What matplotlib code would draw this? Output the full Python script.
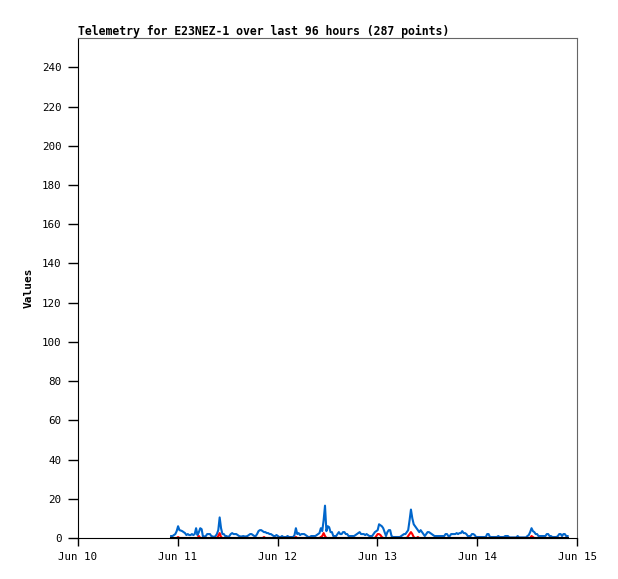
import matplotlib
matplotlib.use("Agg")
import matplotlib.pyplot as plt
import pandas as pd

TITLE = "Telemetry for E23NEZ-1 over last 96 hours (287 points)"
START = "2024-06-10 22:24"
STEP = "20min"

# blue channel, one value per 20 min sample
blue_vals = [
    1, 1, 1.5, 2, 3.5, 6, 4, 3.8, 3.5, 3, 2.5, 1.5, 2, 1.5, 1.5, 2, 1.5, 2, 5, 1.5,
    3, 5, 4.5, 0.5, 0.8, 1, 2, 2, 2, 1, 0.8, 0.5, 1, 2, 4, 10.5, 5, 2, 2, 1,
    1, 0.5, 1, 2, 2.5, 2, 2, 2, 1.5, 1, 0.8, 0.8, 1, 0.8, 0.8, 1, 1.5, 2, 2, 1.5,
    1, 1, 2, 3.5, 4, 4, 3.5, 3, 3, 2.5, 2.5, 2, 2, 1.5, 1, 1, 1.5, 1, 0.5, 0.5,
    1, 0.5, 0.5, 0.5, 1, 0.5, 0.5, 0.5, 0.5, 1.5, 5, 2, 2.5, 1.5, 2, 2, 2, 1.5, 1, 0.5,
    0.5, 1, 1, 1, 1, 1.5, 2, 2.5, 5, 3.5, 9, 16.5, 3.5, 6, 5.5, 3, 3, 1, 1, 1,
    2, 3, 2, 2, 3, 3, 2, 2, 1, 1, 1, 1, 1, 1.5, 2, 2.5, 3, 2, 2, 2,
    1.5, 2, 1.5, 1, 1, 1, 2, 3, 3.5, 4, 7, 6.5, 6, 5, 3, 1, 3, 4, 4, 1,
    0.5, 0.5, 0.5, 0.5, 0.5, 0.5, 1, 1.5, 2, 2, 3, 4, 9, 14.5, 10, 7, 6, 5, 4, 3,
    4, 3, 2, 1, 2, 3, 3, 2.5, 2, 1.5, 1, 1, 1, 1, 1, 1, 1, 1, 2, 2,
    1, 1, 2, 2, 2, 2, 2.5, 2, 2.5, 2.5, 3.5, 2.5, 2.5, 2, 1, 1, 1, 2, 2, 1.5,
    0.5, 0.5, 0.5, 0.5, 0.5, 0.5, 0.5, 0.5, 2, 2, 0.5, 0.5, 0.5, 0.5, 0.5, 0.5, 1, 0.5, 0.5, 0.5,
    0.5, 1, 1, 1, 0.3, 0.3, 0.3, 0.3, 0.3, 0.3, 1, 0.3, 0.3, 0.3, 0.3, 0.3, 0.3, 1, 1.5, 3,
    5, 3.5, 3, 2, 2, 1, 1, 1, 1, 1, 1, 2, 2, 1, 1, 0.5, 0.5, 0.5, 0.5, 1,
    2, 2, 1, 2, 2, 1, 1,
]

# red channel
red_vals = [
    0, 0, 0, 0, 0, 0.5, 0, 0, 0, 0, 0, 0, 0, 0, 0, 0, 0, 0, 0, 0,
    1, 0, 0, 0, 0, 0, 0, 0, 0, 0, 0, 0, 0, 0, 1, 2.5, 0.5, 0, 0, 0,
    0, 0, 0, 0, 0, 0, 0, 0, 0, 0, 0, 0, 0, 0, 0, 0, 0, 0, 0, 0,
    0, 0, 0, 0, 0, 0, 0, 0.5, 0, 0, 0, 0, 0, 0, 0, 0, 0, 0, 0, 0,
    0, 0, 0, 0, 0, 0, 0, 0, 0, 0, 0.5, 0, 0, 0, 0, 0, 0, 0, 0, 0,
    0, 0, 0, 0, 0, 0, 0, 0, 0.5, 1, 2.5, 1, 0, 0, 0, 0, 0, 0, 0, 0,
    0, 0, 0, 0, 0, 0, 0, 0, 0, 0, 0, 0, 0, 0, 0, 0, 0, 0, 0, 0,
    0, 0, 0, 0, 0, 0, 0, 0, 1, 2, 2, 1.5, 0.5, 0, 0, 0, 0, 0, 0, 0,
    0, 0, 0, 0, 0, 0, 0, 0, 0, 0, 0, 1, 2, 3, 2, 0.5, 0, 0, 0.5, 0,
    0, 0, 0, 0, 0, 0, 0, 0, 0, 0, 0, 0, 0, 0, 0, 0, 0, 0, 0, 0,
    0, 0, 0, 0, 0, 0, 0, 0, 0, 0, 0, 0, 0, 0, 0, 0, 0, 0, 0, 0,
    0, 0, 0, 0, 0, 0, 0, 0, 0, 0, 0, 0, 0, 0, 0, 0, 0, 0, 0, 0,
    0, 0, 0, 0, 0, 0, 0, 0, 0, 0, 0, 0, 0, 0, 0, 0, 0, 0, 0, 0,
    1, 0.5, 0, 0, 0, 0, 0, 0, 0, 0, 0, 0, 0, 0, 0, 0, 0, 0, 0, 0,
    0, 0, 0, 0, 0, 0, 0,
]

# black channel sits on zero the whole time
black_vals = [0.0] * len(blue_vals)

x_ticks = ["2024-06-10", "2024-06-11", "2024-06-12", "2024-06-13", "2024-06-14", "2024-06-15"]
x_labels = ["Jun 10", "Jun 11", "Jun 12", "Jun 13", "Jun 14", "Jun 15"]
y_ticks = [0, 20, 40, 60, 80, 100, 120, 140, 160, 180, 200, 220, 240]

times = pd.date_range(START, periods=len(blue_vals), freq=STEP)
mono = "DejaVu Sans Mono"

fig = plt.figure(figsize=(6.18, 5.79), dpi=100)
ax = fig.add_axes([78 / 618, 1 - 538 / 579, 499 / 618, 500 / 579])

ax.plot(times, blue_vals, color="#0066cc", lw=1.5, zorder=2)
ax.plot(times, red_vals, color="#ff0000", lw=1.5, zorder=3)
ax.plot(times, black_vals, color="#000000", lw=1.5, zorder=4, clip_on=False)

ax.set_xlim(pd.Timestamp(x_ticks[0]), pd.Timestamp(x_ticks[-1]))
ax.set_ylim(0, 255)
ax.set_xticks([pd.Timestamp(t) for t in x_ticks])
ax.set_xticklabels(x_labels, family=mono, fontsize=7.8)
ax.set_yticks(y_ticks)
ax.set_yticklabels([str(v) for v in y_ticks], family=mono, fontsize=7.8)
ax.tick_params(axis="x", direction="out", length=6, width=1, color="black", pad=4)
ax.tick_params(axis="y", direction="out", length=7, width=1, color="black", pad=5)

for side in ("top", "right"):
    ax.spines[side].set_color("#666666")
for side in ("left", "bottom"):
    ax.spines[side].set_color("black")

ax.set_ylabel("Values", family=mono, fontsize=8, fontweight="bold", labelpad=6)
ax.set_title(TITLE, family=mono, fontsize=8.3, fontweight="bold", loc="left", pad=2)

fig.savefig("out.png", dpi=100)
